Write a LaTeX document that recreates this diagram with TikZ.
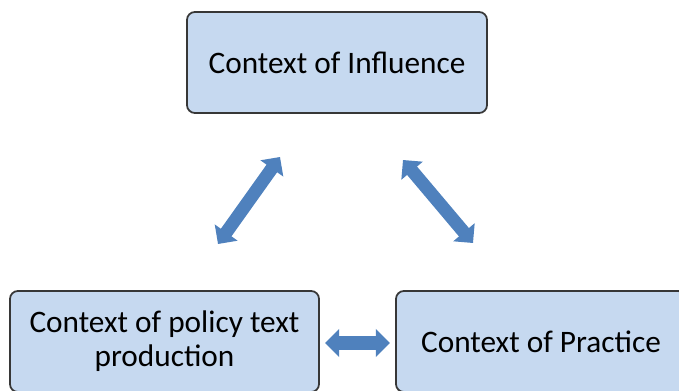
\documentclass[tikz,border=0pt]{standalone}
\usepackage{fontspec}
\setmainfont{Carlito}
\usetikzlibrary{arrows.meta,positioning,calc}
\definecolor{boxfill}{RGB}{198,217,240}
\definecolor{boxline}{RGB}{55,55,55}
\definecolor{arr}{RGB}{79,129,189}

\begin{document}
\begin{tikzpicture}[
    ctx/.style={draw=boxline,line width=1pt,fill=boxfill,rounded corners=4.5pt,
      minimum height=2.02cm,align=center,font=\fontsize{17.8}{19.5}\selectfont},
    dblarrow/.style={arr,line width=7.4pt,
      {Triangle[length=8pt,width=15.5pt]}-{Triangle[length=8pt,width=15.5pt]}}]
    \useasboundingbox (0,0) rectangle (13.58,7.8);
    % the three contexts
    \node[ctx,minimum width=6cm] (infl) at (6.74,6.55) {Context of Influence};
    \node[ctx,minimum width=6.18cm] (prod) at (3.29,0.97) {Context of policy text\\production};
    \node[ctx,minimum width=5.8cm] (prac) at (10.82,0.97) {Context of Practice};
    % arrow ends
    \coordinate (l1) at (4.36,2.92);
    \coordinate (l2) at (5.60,4.66);
    \coordinate (r1) at (8.06,4.60);
    \coordinate (r2) at (9.46,2.94);
    \coordinate (h1) at (prod.east |- 0,0.94);
    \coordinate (h2) at (prac.west |- 0,0.94);
    \foreach \a/\b in {l1/l2,r1/r2}
      \draw[dblarrow] (\a) -- (\b);
    \draw[dblarrow,shorten <=3pt,shorten >=3pt] (h1) -- (h2);
  \end{tikzpicture}
\end{document}
